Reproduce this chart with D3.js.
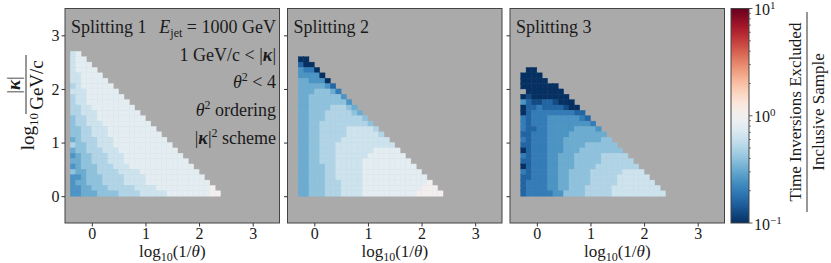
<!DOCTYPE html>
<html>
<head>
<meta charset="utf-8">
<script src="https://cdn.jsdelivr.net/npm/d3@7"></script>
<style>
body{margin:0;background:#fff}
svg text{font-family:"Liberation Serif","Times New Roman","DejaVu Serif",serif;fill:#1a1a1a}
</style>
</head>
<body>
<svg id="chart" width="831" height="263"></svg>
<script>
// panel titles and where the first bin starts on the x axis
var panelNames = ["Splitting 1","Splitting 2","Splitting 3"];
var xStart = [-0.4,-0.3,-0.3];
var binWidth = 0.1;
var xTicks = [0,1,2,3];
var yTicks = [0,1,2,3];
var cbTicks = [0.1,1,10];
var cbLabels = [["10","\u22121"],["10","0"],["10","1"]];

// ratio per cell, coded: char c -> 10^(-c/10) (a = 10), "." = empty bin. rows listed from top to bottom
var grid1 = [
"21","211","2111","21111","221111","2211111","32111111","222111111",
"3221111111","32211111111","332211111111","3322211111111","43322111111111",
"433222111111111","4433222111111111","44332221111111111","543332221111111111",
"3443322211111111111","54433322211111111111","654433322211111111111",
"5544333222111111111111","65444333222111111111111","455443333222211111111111",
"6654443333222211111111111","65544433332222111111111111",
"665544433333222211111111110","6655544443333222221111111100"
];
var grid2 = [
"aa","8aa","677a","6666a","55666a","5555568","55544457","554444446",
"5544444446","55444433345","554443333345","5544433333334","55443333333334",
"554433333222223","5544333332222223","55443333222222222","554433322222222222",
"5544333222222211111","55443332222221111111","554433322222111111111",
"5544433222221111111111","55444332222211111111111","554443322222111111111111",
"5544433322221111111111110","55444333222211111111111000","554443332222111111111100000"
];
var grid3 = [
".aa","aaaa","aaaaa","aaaaaaa",".aaaaaaa","a9aaaaaaa","6899889aaa","a88788889aa",
"a87777777788","7877766666678","78777666666667","788776666655556","8877766665555555",
"78777666555555544","887776665555444444","a877766655544444444","78777665554444433333",
"887776655544444333333","a877766555444433333333","78777665544443333332222",
"887776655444433333222222","8777766554444333332222222","87777665544433333222222222",
"877777664444333332222222222"
];
var grids = [grid1,grid2,grid3];

var svg = d3.select("#chart");
var panelLeft = [65,287.5,510], panelTop = 8.5, panelSize = 214.5;
var fontSize = 18, tickSize = 16, labelSize = 17;

// RdBu_r on a log scale 0.1 .. 10
var color = function(v){
	var t = (Math.log10(v)+1)/2;
	return d3.interpolateRdBu(1-Math.max(0,Math.min(1,t)));
};

grids.forEach(function(rows,p){
	var L = panelLeft[p];
	var x = d3.scaleLinear().domain([-0.5,3.5]).range([L,L+panelSize]);
	var y = d3.scaleLinear().domain([-0.5,3.5]).range([panelTop+panelSize,panelTop]);
	var g = svg.append("g");

	g.append("rect").attr("x",L).attr("y",panelTop).attr("width",panelSize).attr("height",panelSize)
		.attr("fill","#aaaaaa");

	var cells = [];
	rows.forEach(function(row,r){
		var b = rows.length-1-r;
		row.split("").forEach(function(c,i){
			if(c===".") return;
			cells.push({x0:xStart[p]+i*binWidth, y0:b*binWidth, v:Math.pow(10,-parseInt(c,36)/10)});
		});
	});

	g.selectAll("rect.cell").data(cells).enter().append("rect")
		.attr("class","cell")
		.attr("x",function(d){return x(d.x0);})
		.attr("y",function(d){return y(d.y0+binWidth);})
		.attr("width",function(d){return x(d.x0+binWidth)-x(d.x0);})
		.attr("height",function(d){return y(d.y0)-y(d.y0+binWidth);})
		.attr("fill",function(d){return color(d.v);})
		.attr("stroke",function(d){return color(d.v);})
		.attr("stroke-width",0.4);

	g.append("rect").attr("x",L).attr("y",panelTop).attr("width",panelSize).attr("height",panelSize)
		.attr("fill","none").attr("stroke","#444").attr("stroke-width",1);

	var ax = g.append("g").attr("transform","translate(0,"+(panelTop+panelSize)+")")
		.call(d3.axisBottom(x).tickValues(xTicks).tickSize(3.5).tickPadding(1).tickFormat(d3.format("d")));
	var ay = g.append("g").attr("transform","translate("+L+",0)")
		.call(d3.axisLeft(y).tickValues(yTicks).tickSize(3.5).tickPadding(2)
			.tickFormat(p===0 ? d3.format("d") : function(){return "";}));
	[ax,ay].forEach(function(a){
		a.select(".domain").remove();
		a.attr("font-family",null).attr("font-size",null);
		a.selectAll("line").attr("stroke","#333");
		a.selectAll("text").style("font-size",tickSize+"px");
	});

	// x label log10(1/theta)
	var xl = g.append("text").attr("x",L+panelSize/2).attr("y",257).attr("text-anchor","middle")
		.style("font-size",labelSize+"px");
	xl.append("tspan").text("log");
	xl.append("tspan").attr("dy",4).style("font-size","12px").text("10");
	xl.append("tspan").attr("dy",-4).text("(1/");
	xl.append("tspan").style("font-style","italic").text("\u03b8");
	xl.append("tspan").text(")");

	g.append("text").attr("x",L+6).attr("y",33).style("font-size",fontSize+"px").text(panelNames[p]);
});

// annotation block in panel 1
var annX = 276;
var a1 = svg.append("text").attr("x",annX).attr("y",33).attr("text-anchor","end").style("font-size",fontSize+"px");
a1.append("tspan").style("font-style","italic").text("E");
a1.append("tspan").attr("dy",4).style("font-size","12px").text("jet");
a1.append("tspan").attr("dy",-4).text(" = 1000 GeV");

var a2 = svg.append("text").attr("x",annX).attr("y",61).attr("text-anchor","end").style("font-size",fontSize+"px");
a2.append("tspan").text("1 GeV/c < |");
a2.append("tspan").style("font-style","italic").style("font-weight","bold").text("\u03ba");
a2.append("tspan").text("|");

var a3 = svg.append("text").attr("x",annX).attr("y",88).attr("text-anchor","end").style("font-size",fontSize+"px");
a3.append("tspan").style("font-style","italic").text("\u03b8");
a3.append("tspan").attr("dy",-7).style("font-size","12px").text("2");
a3.append("tspan").attr("dy",7).text(" < 4");

var a4 = svg.append("text").attr("x",annX).attr("y",116).attr("text-anchor","end").style("font-size",fontSize+"px");
a4.append("tspan").style("font-style","italic").text("\u03b8");
a4.append("tspan").attr("dy",-7).style("font-size","12px").text("2");
a4.append("tspan").attr("dy",7).text(" ordering");

var a5 = svg.append("text").attr("x",annX).attr("y",144).attr("text-anchor","end").style("font-size",fontSize+"px");
a5.append("tspan").text("|");
a5.append("tspan").style("font-style","italic").style("font-weight","bold").text("\u03ba");
a5.append("tspan").text("|");
a5.append("tspan").attr("dy",-7).style("font-size","12px").text("2");
a5.append("tspan").attr("dy",7).text(" scheme");

// y label: log10 |kappa| / GeV/c, rotated
var yl = svg.append("g").attr("transform","translate(0,110) rotate(-90)");
var ylog = yl.append("text").attr("x",-3).attr("y",34).attr("text-anchor","end").style("font-size","19px");
ylog.append("tspan").text("log");
ylog.append("tspan").attr("dy",4).style("font-size","13px").text("10");
var num = yl.append("text").attr("x",25).attr("y",20).attr("text-anchor","middle").style("font-size","19px");
num.append("tspan").text("|");
num.append("tspan").style("font-style","italic").style("font-weight","bold").text("\u03ba");
num.append("tspan").text("|");
yl.append("line").attr("x1",-4).attr("x2",55).attr("y1",26).attr("y2",26).attr("stroke","#1a1a1a").attr("stroke-width",0.9);
yl.append("text").attr("x",25).attr("y",43).attr("text-anchor","middle").style("font-size","19px").text("GeV/c");

// colorbar
var cbX = 731, cbW = 18;
var cy = d3.scaleLog().domain([0.1,10]).range([panelTop+panelSize,panelTop]);
var grad = svg.append("defs").append("linearGradient").attr("id","cbgrad")
	.attr("x1",0).attr("y1",1).attr("x2",0).attr("y2",0);
d3.range(0,1.0001,0.02).forEach(function(t){
	grad.append("stop").attr("offset",t).attr("stop-color",d3.interpolateRdBu(1-t));
});
svg.append("rect").attr("x",cbX).attr("y",panelTop).attr("width",cbW).attr("height",panelSize)
	.attr("fill","url(#cbgrad)").attr("stroke","#444").attr("stroke-width",1);

var minor = [];
[0.1,1].forEach(function(dec){ d3.range(2,10).forEach(function(k){ minor.push(dec*k); }); });
svg.selectAll("line.minor").data(minor).enter().append("line").attr("class","minor")
	.attr("x1",cbX+cbW).attr("x2",cbX+cbW+2).attr("y1",function(d){return cy(d);}).attr("y2",function(d){return cy(d);})
	.attr("stroke","#333").attr("stroke-width",0.6);
svg.selectAll("line.major").data(cbTicks).enter().append("line").attr("class","major")
	.attr("x1",cbX+cbW).attr("x2",cbX+cbW+3.5).attr("y1",function(d){return cy(d);}).attr("y2",function(d){return cy(d);})
	.attr("stroke","#333").attr("stroke-width",0.8);
cbTicks.forEach(function(v,i){
	var t = svg.append("text").attr("x",cbX+cbW+5).attr("y",cy(v)+6.5).style("font-size",tickSize+"px");
	t.append("tspan").text(cbLabels[i][0]);
	t.append("tspan").attr("dy",-6).style("font-size","11px").text(cbLabels[i][1]);
});

var cl = svg.append("g").attr("transform","translate(0,112) rotate(-90)");
cl.append("text").attr("x",0).attr("y",801).attr("text-anchor","middle").style("font-size",labelSize+"px").text("Time Inversions Excluded");
cl.append("line").attr("x1",-100).attr("x2",100).attr("y1",807).attr("y2",807).attr("stroke","#1a1a1a").attr("stroke-width",0.9);
cl.append("text").attr("x",0).attr("y",824).attr("text-anchor","middle").style("font-size",labelSize+"px").text("Inclusive Sample");
</script>
</body>
</html>
